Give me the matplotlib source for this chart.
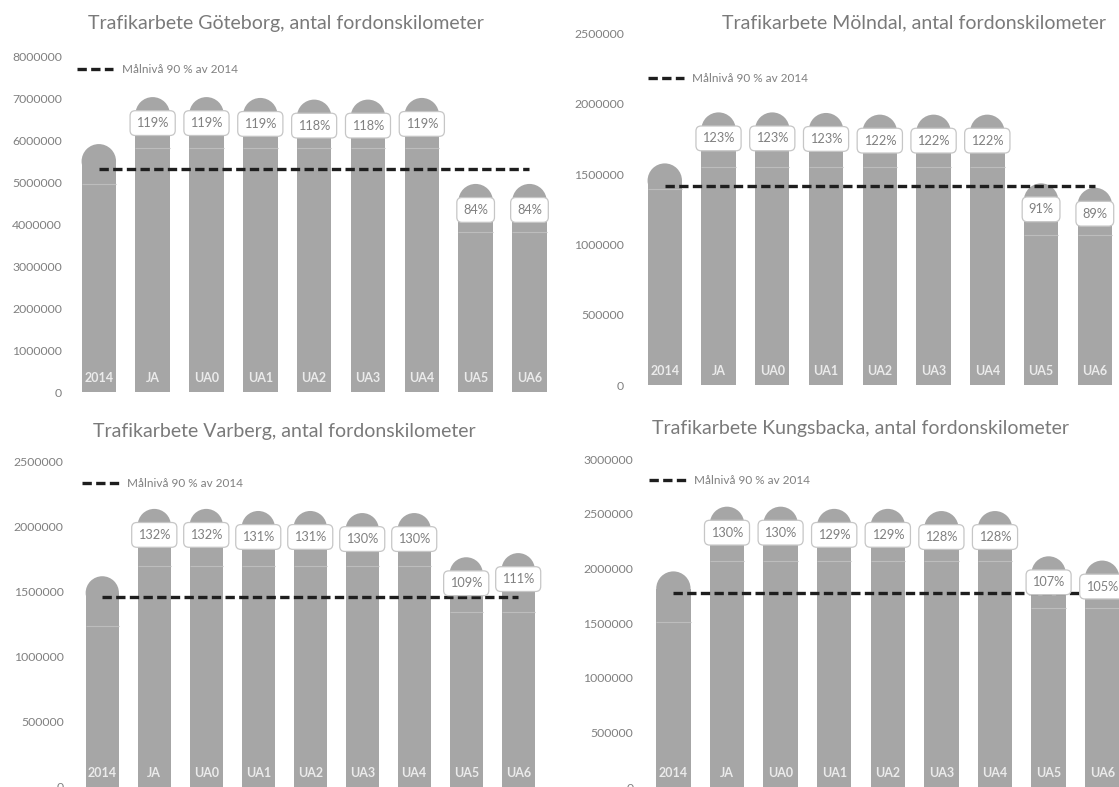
import numpy as np
import matplotlib.pyplot as plt
from matplotlib.patches import Ellipse

W, H = 1119, 787

categories = ['2014', 'JA', 'UA0', 'UA1', 'UA2', 'UA3', 'UA4', 'UA5', 'UA6']

# Göteborg
got_total = [5910000, 7030000, 7030000, 7010000, 6970000, 6970000, 7010000, 4960000, 4960000]
got_base = [4970000, 5820000, 5820000, 5820000, 5820000, 5820000, 5820000, 3810000, 3810000]
got_pct = ['', '119%', '119%', '119%', '118%', '118%', '119%', '84%', '84%']

# Mölndal
mol_total = [1577000, 1940000, 1940000, 1936000, 1924000, 1924000, 1924000, 1435000, 1404000]
mol_base = [1394000, 1553000, 1553000, 1553000, 1553000, 1553000, 1553000, 1067000, 1067000]
mol_pct = ['', '123%', '123%', '123%', '122%', '122%', '122%', '91%', '89%']

# Varberg
var_total = [1619000, 2137000, 2137000, 2121000, 2121000, 2105000, 2105000, 1765000, 1797000]
var_base = [1238000, 1700000, 1700000, 1700000, 1700000, 1700000, 1700000, 1346000, 1346000]
var_pct = ['', '132%', '132%', '131%', '131%', '130%', '130%', '109%', '111%']

# Kungsbacka
kun_total = [1972000, 2564000, 2564000, 2544000, 2544000, 2524000, 2524000, 2110000, 2071000]
kun_base = [1512000, 2068000, 2068000, 2068000, 2068000, 2068000, 2068000, 1635000, 1635000]
kun_pct = ['', '130%', '130%', '129%', '129%', '128%', '128%', '107%', '105%']

target_label = 'Målnivå 90 % av 2014'

plt.rcParams['font.family'] = ['Lato', 'DejaVu Sans']

BAR = '#a6a6a6'
TXT = '#808080'

fig = plt.figure(figsize=(W / 100, H / 100), dpi=100)


def panel(box, title, title_xy, legend_xy, totals, bases, pcts, ymax, step, tick_pad):
    left, right, top, bottom = box
    ax = fig.add_axes([left / W, 1 - bottom / H, (right - left) / W, (bottom - top) / H])
    x = np.arange(len(categories))
    ax.set_xlim(-0.5, len(categories) - 0.5)
    ax.set_ylim(0, ymax)
    totals = np.array(totals, dtype=float)
    bases = np.array(bases, dtype=float)

    width = 0.64
    # radius of the rounded cap, converted from pixels to data units
    px_x = (right - left) / len(categories)
    px_y = (bottom - top) / ymax
    r = width * px_x / 2 / px_y

    ax.bar(x, bases, width, color=BAR, zorder=2)
    ax.bar(x, totals - r - bases, width, bottom=bases, color=BAR, zorder=2)
    for xi, t in zip(x, totals):
        ax.add_patch(Ellipse((xi, t - r), width, 2 * r, color=BAR, zorder=2, lw=0))
    ax.hlines(bases, x - width / 2, x + width / 2, color='#bdbdbd', lw=0.8, zorder=3)

    ax.plot([x[0], x[-1]], [0.9 * totals[0]] * 2, color='#1e1e1e', lw=2.4,
            ls=(0, (2.8, 1.3)), label=target_label, zorder=4)

    for xi, t, p in zip(x, totals, pcts):
        if p:
            ax.annotate(p, (xi, t), xytext=(0, -26), textcoords='offset pixels',
                        ha='center', va='center', fontsize=9.2, color=TXT, zorder=6,
                        bbox=dict(boxstyle='round,pad=0.5,rounding_size=0.4',
                                  fc='white', ec='#c6c6c6', lw=0.9))
    for xi, c in zip(x, categories):
        ax.annotate(c, (xi, 0), xytext=(0, 14), textcoords='offset pixels',
                    ha='center', va='center', fontsize=9, color='#ebebeb',
                    fontweight='bold', zorder=5)

    ax.set_yticks(np.arange(0, ymax + 1, step))
    ax.yaxis.set_major_formatter(lambda v, p: f'{int(v)}')
    ax.tick_params(axis='y', length=0, pad=tick_pad, labelcolor=TXT, labelsize=8.8)
    ax.set_xticks([])
    for s in ax.spines.values():
        s.set_visible(False)

    lx, ly = legend_xy
    ax.legend(loc='center left',
              bbox_to_anchor=((lx - left) / (right - left), (bottom - ly) / (bottom - top)),
              frameon=False, fontsize=8.5, labelcolor=TXT, handlelength=3.1,
              handletextpad=0.7, borderpad=0, borderaxespad=0)

    fig.text(title_xy[0] / W, 1 - title_xy[1] / H, title, ha='center', va='center',
             fontsize=14, color='#7a7a7a')
    return ax


panel((71.9, 556.4, 56.4, 392), 'Trafikarbete Göteborg, antal fordonskilometer',
      (286, 23), (76.7, 69.3), got_total, got_base, got_pct, 8000000, 1000000, 7)
panel((637.9, 1121.7, 33.7, 385), 'Trafikarbete Mölndal, antal fordonskilometer',
      (913.6, 23.3), (647.5, 79), mol_total, mol_base, mol_pct, 2500000, 500000, 10)
panel((76.3, 544.2, 461.7, 786.7), 'Trafikarbete Varberg, antal fordonskilometer',
      (284, 431.7), (82, 483.3), var_total, var_base, var_pct, 2500000, 500000, 9)
panel((646.6, 1129, 459, 787), 'Trafikarbete Kungsbacka, antal fordonskilometer',
      (860.9, 428.3), (649.3, 481), kun_total, kun_base, kun_pct, 3000000, 500000, 9.5)

fig.savefig('out.png', dpi=100, facecolor='white')
